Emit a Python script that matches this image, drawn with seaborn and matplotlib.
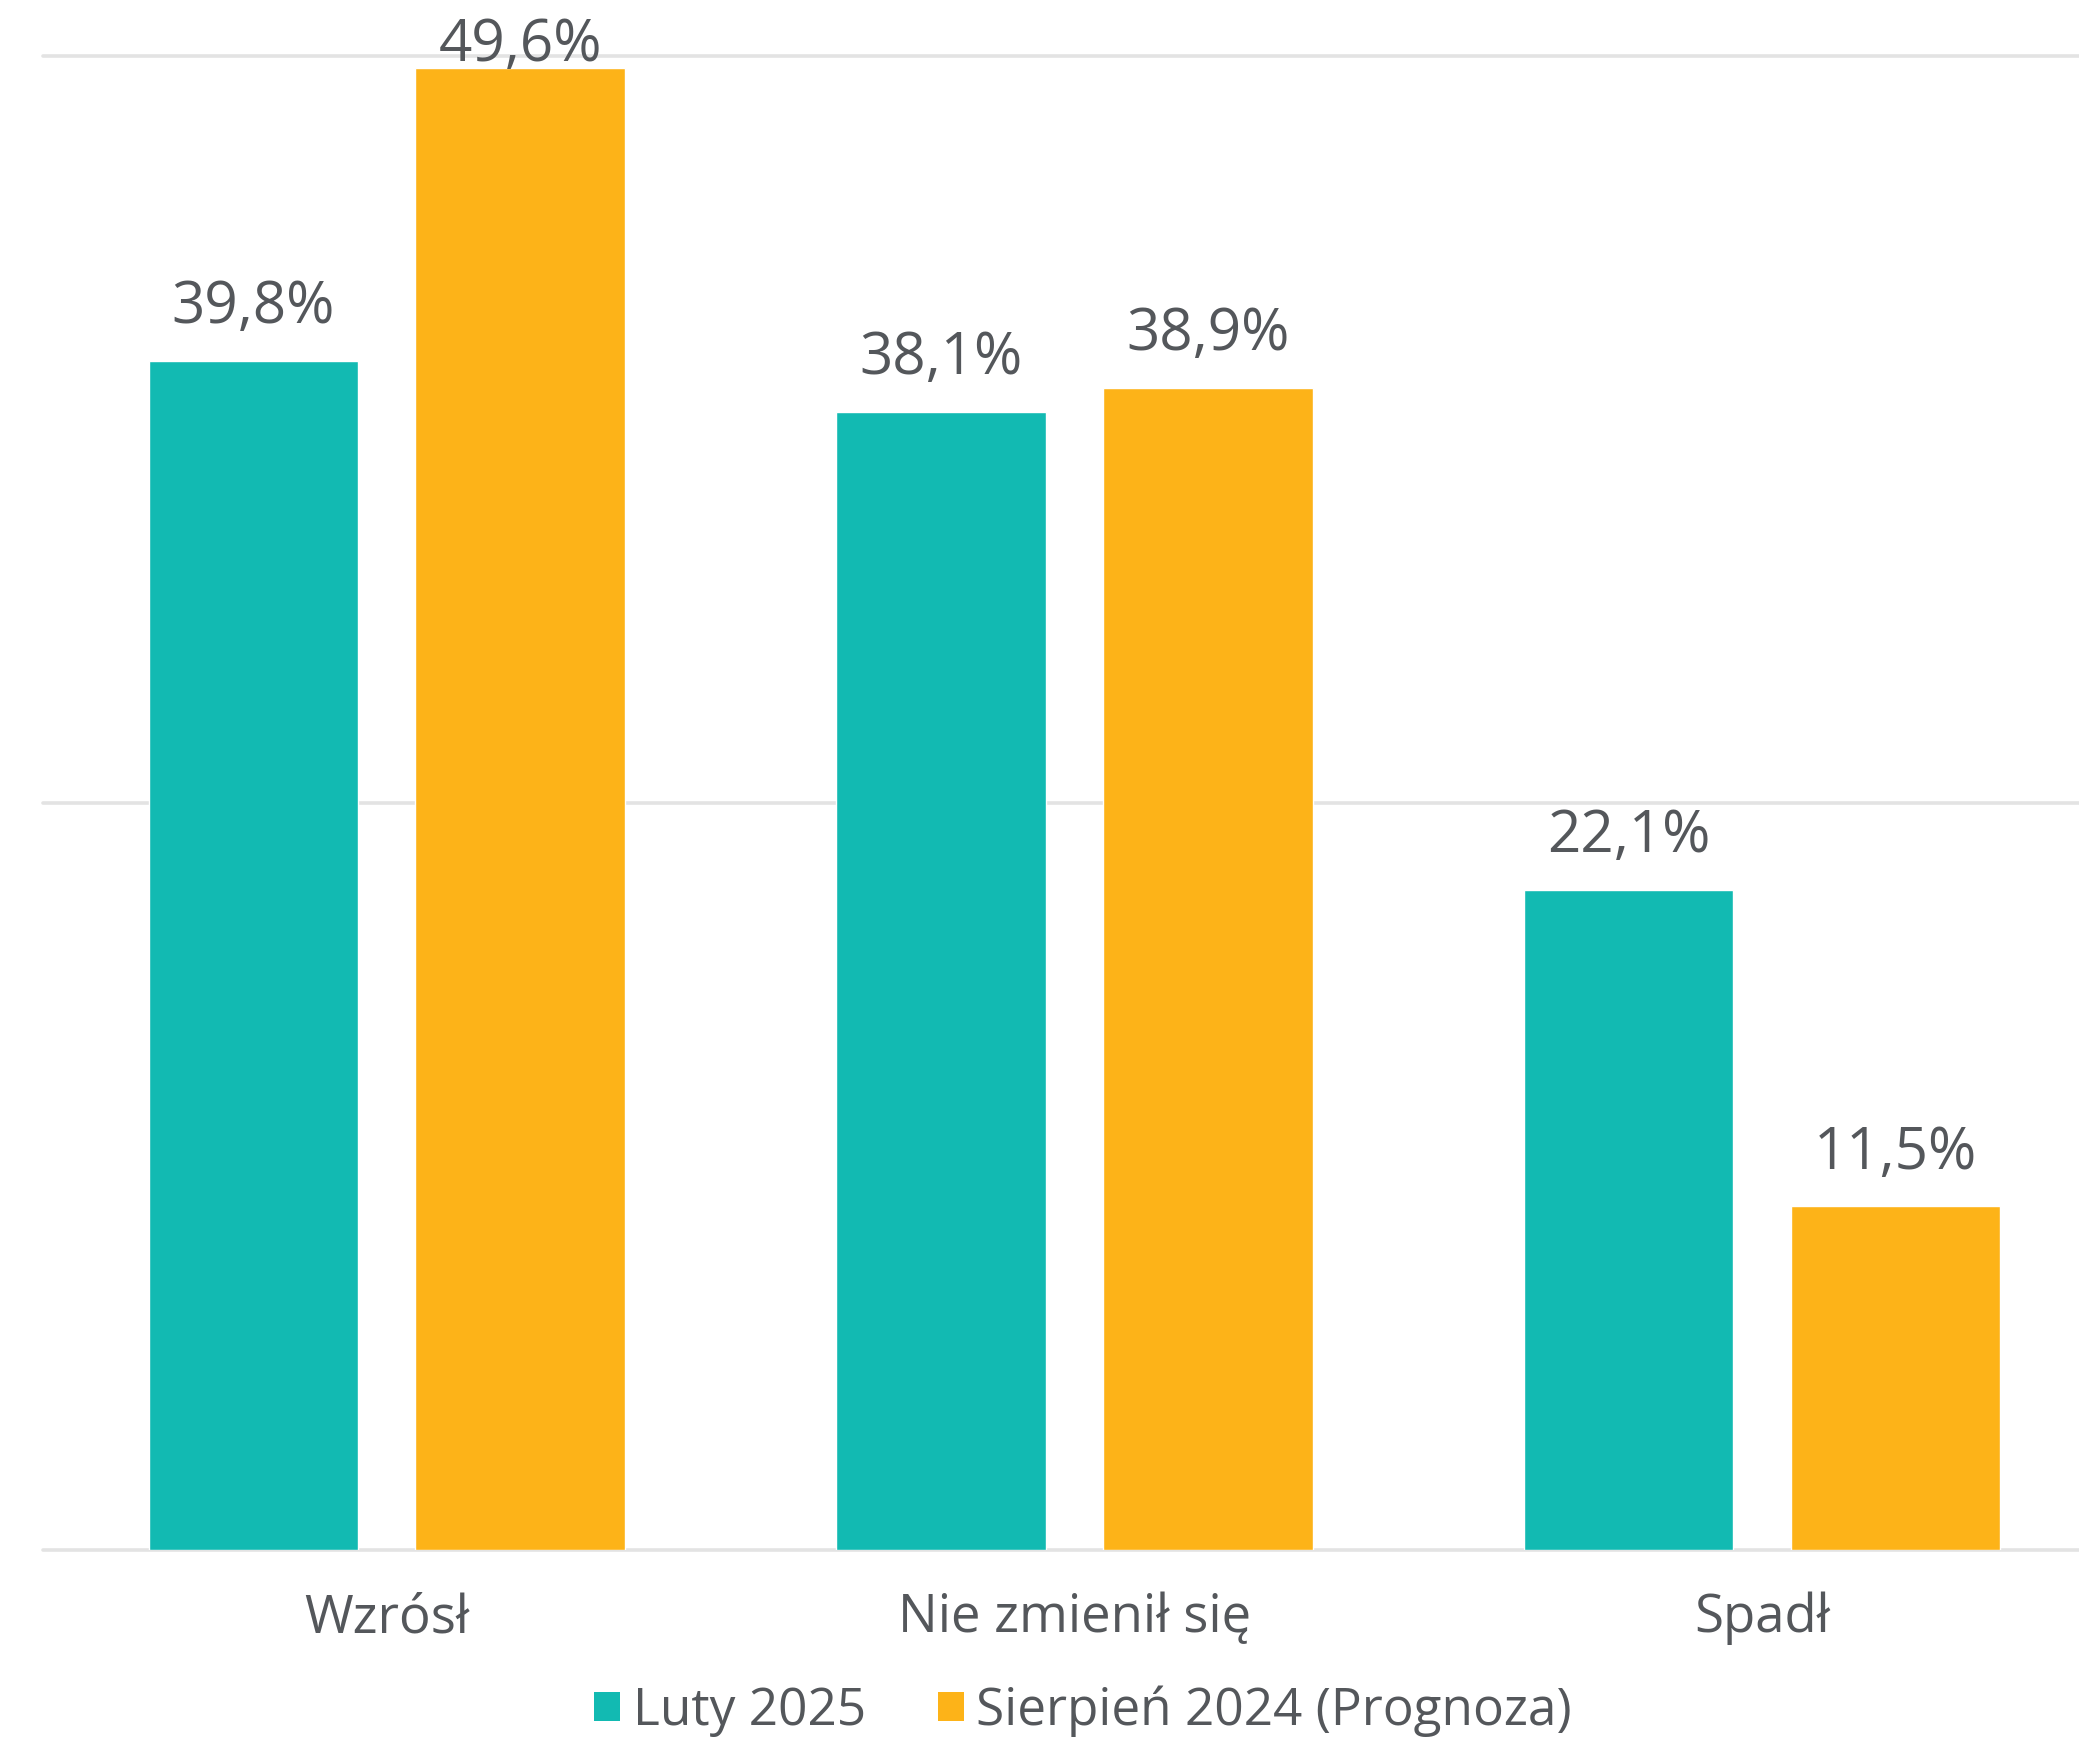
import matplotlib
matplotlib.use("Agg")
import matplotlib.pyplot as plt
import seaborn as sns
import pandas as pd
from matplotlib.patches import Patch

categories = ["Wzrósł", "Nie zmienił się", "Spadł"]
series_names = ["Luty 2025", "Sierpień 2024 (Prognoza)"]
luty_2025 = [39.8, 38.1, 22.1]
sierpien_2024 = [49.6, 38.9, 11.5]
colors = ["#12BAB2", "#FDB318"]
text_color = "#54575B"

df = pd.DataFrame({
    "kategoria": categories * 2,
    "seria": [series_names[0]] * 3 + [series_names[1]] * 3,
    "wartosc": luty_2025 + sierpien_2024,
})

sns.set_theme(style="white")
plt.rcParams["font.family"] = ["Open Sans", "DejaVu Sans"]

W, H = 2079, 1744
fig = plt.figure(figsize=(W / 100, H / 100), dpi=100)
ax = fig.add_axes([43 / W, (H - 1550) / H, (W - 43) / W, (1550 - 56) / H])

sns.barplot(data=df, x="kategoria", y="wartosc", hue="seria", order=categories,
            hue_order=series_names, palette=colors, width=0.776, gap=0.214,
            saturation=1, ax=ax, legend=False, errorbar=None)

ax.set_xlim(-0.5, 2.461)
ax.set_ylim(0, 50)
for v in [0, 25, 50]:
    ax.axhline(v, color="#E3E3E3", lw=2.6, zorder=0, clip_on=False)
for s in ax.spines.values():
    s.set_visible(False)
ax.set_yticks([])
ax.set_xlabel("")
ax.set_ylabel("")
ax.tick_params(axis="x", length=0, pad=30, labelsize=38, labelcolor=text_color)

for cont in ax.containers:
    for bar in cont:
        h = bar.get_height()
        off = 27 if h < 45 else 5
        ax.annotate(f"{h:.1f}%".replace(".", ","),
                    (bar.get_x() + bar.get_width() / 2, h),
                    xytext=(0, off), textcoords="offset points",
                    ha="center", va="baseline", fontsize=42, color=text_color,
                    annotation_clip=False)

handles = [Patch(facecolor=c, edgecolor="none") for c in colors]
fig.legend(handles, series_names, loc="center", bbox_to_anchor=(0.521, 0.019),
           ncol=2, frameon=False, fontsize=37, labelcolor=text_color,
           handlelength=0.5, handleheight=0.5, handletextpad=0.25,
           columnspacing=1.4, borderpad=0)

fig.savefig("out.png", dpi=100)
